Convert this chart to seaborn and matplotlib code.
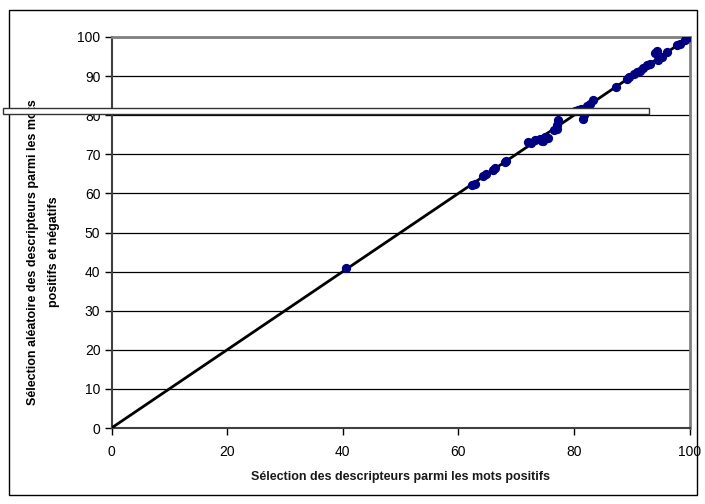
import matplotlib
matplotlib.use("Agg")
import matplotlib.pyplot as plt
import seaborn as sns
import pandas as pd
from matplotlib.patches import Rectangle

sns.set_theme(style="white")
plt.rcParams['font.family'] = ['Liberation Sans', 'DejaVu Sans']

pos_x = [40.5, 62.4, 62.8, 64.3, 64.8, 66.0, 66.3, 68.0, 68.3,
         72.0, 72.5, 73.3, 74.1, 74.6, 75.0, 75.5, 74.4,
         76.5, 77.0, 77.3, 77.1, 80.2, 80.7, 81.2, 81.5, 81.7, 82.3, 82.8, 83.3,
         87.2, 89.1, 89.6, 90.3, 90.9, 91.5, 92.0, 92.6, 93.2,
         94.0, 94.3, 94.6, 95.2, 96.1, 97.8, 98.4, 99.2, 99.5, 100.0]
posneg_y = [41.0, 62.1, 62.5, 64.5, 65.0, 66.0, 66.5, 68.1, 68.4,
            73.1, 73.0, 73.6, 73.9, 73.5, 74.5, 74.2, 73.3,
            76.2, 76.5, 78.8, 77.5, 81.0, 81.3, 81.6, 79.0, 80.0, 82.3, 82.9, 83.9,
            87.1, 89.3, 89.8, 90.5, 91.1, 91.4, 92.0, 92.8, 93.1,
            95.8, 96.3, 94.1, 94.8, 96.2, 98.0, 98.3, 99.3, 99.9, 100.0]
diag = [0, 100]

df = pd.DataFrame({"x": pos_x, "y": posneg_y})
df_line = pd.DataFrame({"x": diag, "y": diag})

fig = plt.figure(figsize=(7.05, 5.04), dpi=100)
ax = fig.add_axes([111.5/705, 1 - 428/504, (689.6-111.5)/705, (428-37)/504])

sns.lineplot(data=df_line, x="x", y="y", ax=ax, color="black", lw=2, zorder=3)
sns.scatterplot(data=df, x="x", y="y", ax=ax, color="#000080", s=32,
                marker="o", edgecolor="#000080", linewidth=1, zorder=4)

ax.set_xlim(0, 100)
ax.set_ylim(0, 100)
ax.set_xticks(range(0, 101, 20))
ax.set_yticks(range(0, 101, 10))
ax.yaxis.grid(True, color="black", lw=0.9)
ax.xaxis.grid(False)
ax.tick_params(axis="both", direction="out", length=5, width=1, color="black",
               labelsize=10, colors="black", bottom=True, left=True, pad=3)
ax.tick_params(axis="x", pad=7)
for s in ["top", "right"]:
    ax.spines[s].set_color("#808080")
    ax.spines[s].set_linewidth(2)
for s in ["left", "bottom"]:
    ax.spines[s].set_color("#404040")
    ax.spines[s].set_linewidth(1.5)

ax.set_xlabel("Sélection des descripteurs parmi les mots positifs",
              fontsize=9, fontweight="bold", color="#1a1a1a", labelpad=9)
ax.set_ylabel("")

fig.text(44/705, 1 - 252/504,
         "Sélection aléatoire des descripteurs parmi les mots\npositifs et négatifs",
         rotation=90, ha="center", va="center", ma="center", fontsize=9,
         fontweight="heavy", color="black", linespacing=2.0)

# empty legend box
fig.add_artist(Rectangle((3/705, 1 - 114/504), (649-3)/705, 6/504,
                         transform=fig.transFigure, facecolor="white",
                         edgecolor="#333333", lw=1, zorder=10))
# figure border
fig.add_artist(Rectangle((9/705, 1 - 495/504), (697-9)/705, (495-10)/504,
                         transform=fig.transFigure, facecolor="none",
                         edgecolor="black", lw=1))

fig.savefig("out.png", dpi=100)
